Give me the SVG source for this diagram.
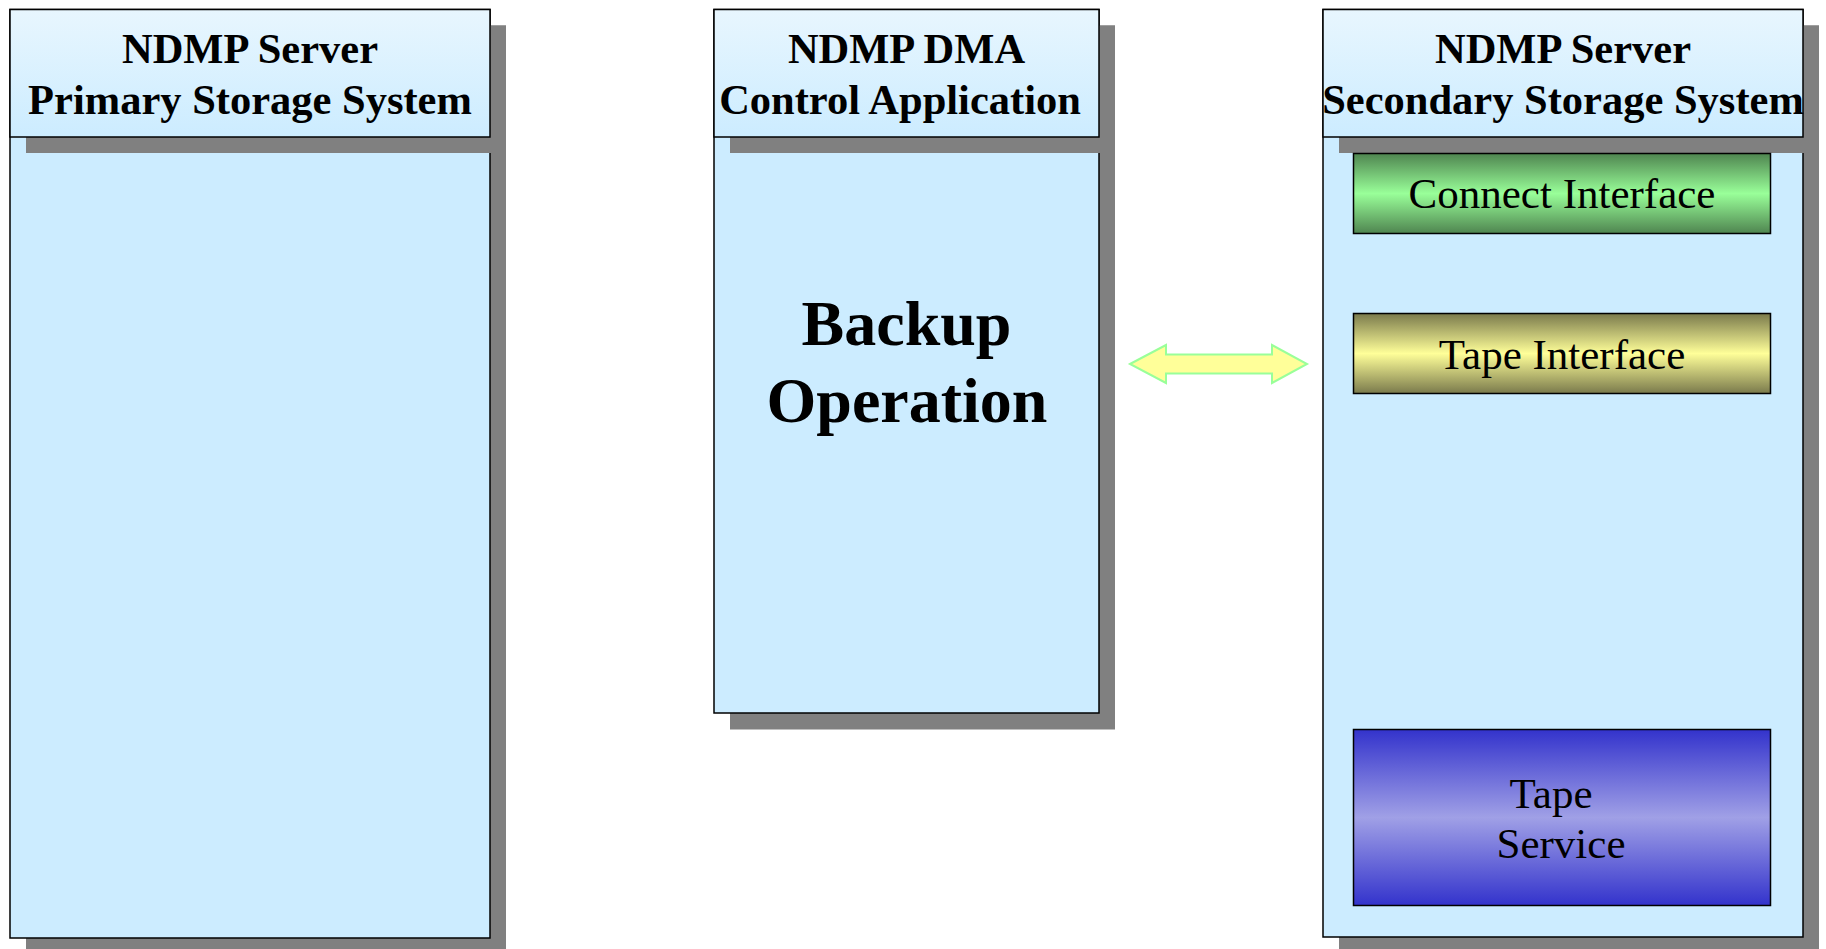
<svg xmlns="http://www.w3.org/2000/svg" width="1826" height="949" viewBox="0 0 1826 949">
  <defs>
    <linearGradient id="hdr" x1="0" y1="0" x2="0" y2="1">
      <stop offset="0" stop-color="#E8F6FE"/>
      <stop offset="1" stop-color="#CCECFF"/>
    </linearGradient>
    <linearGradient id="green" x1="0" y1="0" x2="0" y2="1">
      <stop offset="0" stop-color="#4F8550"/>
      <stop offset="0.5" stop-color="#99FF99"/>
      <stop offset="1" stop-color="#4F8550"/>
    </linearGradient>
    <linearGradient id="yellow" x1="0" y1="0" x2="0" y2="1">
      <stop offset="0" stop-color="#7A7A4C"/>
      <stop offset="0.5" stop-color="#FFFF99"/>
      <stop offset="1" stop-color="#7A7A4C"/>
    </linearGradient>
    <linearGradient id="blue" x1="0" y1="0" x2="0" y2="1">
      <stop offset="0" stop-color="#3333CC"/>
      <stop offset="0.5" stop-color="#A0A0E6"/>
      <stop offset="1" stop-color="#3333CC"/>
    </linearGradient>
  </defs>
  <style>
    .shadow { fill: #808080; stroke: none; }
    .body { fill: #CCECFF; stroke: #000; stroke-width: 1.5; }
    .hdr { fill: url(#hdr); stroke: #000; stroke-width: 1.5; }
    .htxt { font-family: "Liberation Serif", "Times New Roman", serif; font-weight: bold; font-size: 42.5px; text-anchor: middle; fill: #000; }
    .big { font-family: "Liberation Serif", "Times New Roman", serif; font-weight: bold; font-size: 64px; text-anchor: middle; fill: #000; }
    .itxt { font-family: "Liberation Serif", "Times New Roman", serif; font-size: 43px; text-anchor: middle; fill: #000; }
    .inner { stroke: #000; stroke-width: 1.5; }
  </style>

  <g id="primary">
    <rect class="shadow" x="26" y="25.5" width="480" height="940"/>
    <rect class="body" x="10" y="9.5" width="480" height="928.5"/>
    <rect class="shadow" x="26" y="25.5" width="480" height="127.5"/>
    <rect class="hdr" x="10" y="9.5" width="480" height="127.5"/>
    <text class="htxt" x="250" y="63">NDMP Server</text>
    <text class="htxt" x="250" y="114">Primary Storage System</text>
  </g>

  <g id="dma">
    <rect class="shadow" x="730" y="25.5" width="385" height="704"/>
    <rect class="body" x="714" y="9.5" width="385" height="703.5"/>
    <rect class="shadow" x="730" y="25.5" width="385" height="127.5"/>
    <rect class="hdr" x="714" y="9.5" width="385" height="127.5"/>
    <text class="htxt" x="906.5" y="63">NDMP DMA</text>
    <text class="htxt" x="900" y="114">Control Application</text>
    <text class="big" x="906.5" y="345">Backup</text>
    <text class="big" x="907" y="422">Operation</text>
  </g>

  <g id="secondary">
    <rect class="shadow" x="1339" y="25.5" width="480" height="940"/>
    <rect class="body" x="1323" y="9.5" width="480" height="927.5"/>
    <rect class="shadow" x="1339" y="25.5" width="480" height="127.5"/>
    <rect class="hdr" x="1323" y="9.5" width="480" height="127.5"/>
    <text class="htxt" x="1563" y="63">NDMP Server</text>
    <text class="htxt" x="1563" y="114">Secondary Storage System</text>
  </g>

  <g id="connect-interface">
    <rect class="inner" x="1353.5" y="153.5" width="417" height="80" fill="url(#green)"/>
    <text class="itxt" x="1562" y="208">Connect Interface</text>
  </g>

  <g id="tape-interface">
    <rect class="inner" x="1353.5" y="313.5" width="417" height="80" fill="url(#yellow)"/>
    <text class="itxt" x="1562" y="369">Tape Interface</text>
  </g>

  <g id="tape-service">
    <rect class="inner" x="1353.5" y="729.5" width="417" height="176" fill="url(#blue)"/>
    <text class="itxt" x="1551" y="808">Tape</text>
    <text class="itxt" x="1561" y="858">Service</text>
  </g>

  <g id="connectors">
    <polygon points="1130,364 1166,345 1166,354.5 1272,354.5 1272,345 1307,364 1272,383 1272,373.5 1166,373.5 1166,383" fill="#FFFF99" stroke="#99FF99" stroke-width="2" stroke-linejoin="miter"/>
  </g>
</svg>
